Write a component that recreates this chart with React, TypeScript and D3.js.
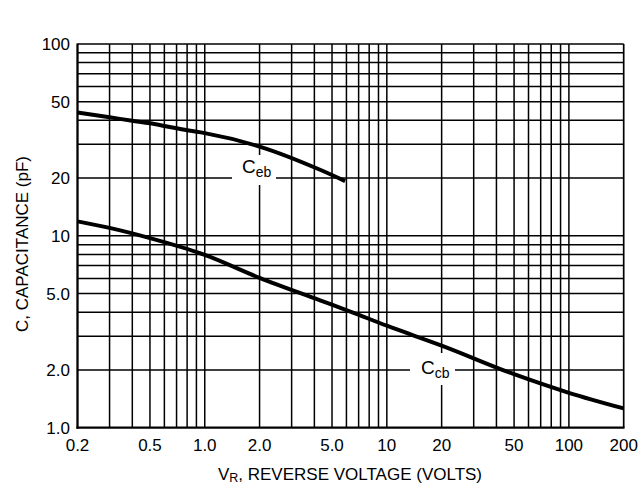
import React from "react";
import * as d3 from "d3";

const xTickLabels = ["0.2", "0.5", "1.0", "2.0", "5.0", "10", "20", "50", "100", "200"];
const xTickValues = [0.2, 0.5, 1, 2, 5, 10, 20, 50, 100, 200];
const yTickLabels = ["1.0", "2.0", "5.0", "10", "20", "50", "100"];
const yTickValues = [1, 2, 5, 10, 20, 50, 100];

const xGrid = [0.3, 0.4, 0.5, 0.6, 0.7, 0.8, 0.9, 1, 2, 3, 4, 5, 6, 7, 8, 9, 10, 20, 30, 40, 50, 60, 70, 80, 90, 100];
const yGrid = [2, 3, 4, 5, 6, 7, 8, 9, 10, 20, 30, 40, 50, 60, 70, 80, 90];

const cebV = [0.2, 0.3, 0.4, 0.5, 0.6, 0.8, 1.0, 2.0, 4.3, 5.9];
const cebC = [43.9, 41.5, 39.8, 38.6, 37.4, 35.5, 34.3, 29.2, 22.1, 19.3];

const ccbV = [0.2, 0.3, 0.5, 1.0, 2.0, 4.3, 6.3, 10, 20, 50, 100, 200];
const ccbC = [11.9, 11.0, 9.73, 7.96, 6.04, 4.61, 4.03, 3.4, 2.68, 1.9, 1.52, 1.26];

const W = 640;
const H = 484;
const L = 77.5, R = 623.7, T = 44, B = 427.7;

export default function App() {
  const x = d3.scaleLog().domain([0.2, 200]).range([L, R]);
  const y = d3.scaleLog().domain([1, 100]).range([B, T]);
  const line = d3
    .line<[number, number]>()
    .x((d) => x(d[0]))
    .y((d) => y(d[1]))
    .curve(d3.curveMonotoneX);
  const ceb = line(cebV.map((v, i) => [v, cebC[i]] as [number, number])) || "";
  const ccb = line(ccbV.map((v, i) => [v, ccbC[i]] as [number, number])) || "";
  const font = "'Liberation Sans', Arial, Helvetica, sans-serif";

  return (
    <svg
      width={W}
      height={H}
      viewBox={`0 0 ${W} ${H}`}
      style={{ position: "absolute", left: 0, top: 0, display: "block", background: "#fff" }}
      fontFamily={font}
    >
      <rect x={0} y={0} width={W} height={H} fill="#fff" />
      {/* grid */}
      <g stroke="#000" strokeWidth={1.5}>
        {xGrid.map((v) => (
          <line key={"gx" + v} x1={x(v)} x2={x(v)} y1={T} y2={B} />
        ))}
        {yGrid.map((v) => (
          <line key={"gy" + v} x1={L} x2={R} y1={y(v)} y2={y(v)} />
        ))}
        <line x1={L} x2={R} y1={T} y2={T} strokeWidth={1.7} />
        <line x1={R} x2={R} y1={T} y2={B} strokeWidth={1.7} />
      </g>
      {/* label knockouts */}
      <rect x={232} y={155} width={44} height={30} fill="#fff" />
      <rect x={410} y={353} width={45} height={32} fill="#fff" />
      {/* axes */}
      <g stroke="#000" strokeWidth={2.3}>
        <line x1={L} x2={L} y1={T - 0.5} y2={B + 1} />
        <line x1={L - 1} x2={R + 0.8} y1={B} y2={B} />
      </g>
      {/* curves */}
      <path d={ceb} fill="none" stroke="#000" strokeWidth={4} strokeLinecap="butt" />
      <path d={ccb} fill="none" stroke="#000" strokeWidth={4} strokeLinecap="butt" />
      {/* curve labels */}
      <text x={242} y={173} fontSize={19} fill="#000">
        C<tspan fontSize={14} dy={4}>eb</tspan>
      </text>
      <text x={421} y={373.5} fontSize={19} fill="#000">
        C<tspan fontSize={14} dy={4}>cb</tspan>
      </text>
      {/* y tick labels */}
      {yTickValues.map((v, i) => (
        <text key={"yt" + v} x={70} y={y(v)} dy="0.36em" textAnchor="end" fontSize={17} fill="#000">
          {yTickLabels[i]}
        </text>
      ))}
      {/* x tick labels */}
      {xTickValues.map((v, i) => (
        <text key={"xt" + v} x={x(v)} y={450.5} textAnchor="middle" fontSize={17} fill="#000">
          {xTickLabels[i]}
        </text>
      ))}
      {/* axis titles */}
      <text x={350} y={479.5} textAnchor="middle" fontSize={17} fill="#000">
        V<tspan fontSize={12.5} dy={2.5}>R</tspan>
        <tspan dy={-2.5}>, REVERSE VOLTAGE (VOLTS)</tspan>
      </text>
      <text
        transform={`translate(28,244) rotate(-90)`}
        textAnchor="middle"
        fontSize={17}
        fill="#000"
      >
        C, CAPACITANCE (pF)
      </text>
    </svg>
  );
}
